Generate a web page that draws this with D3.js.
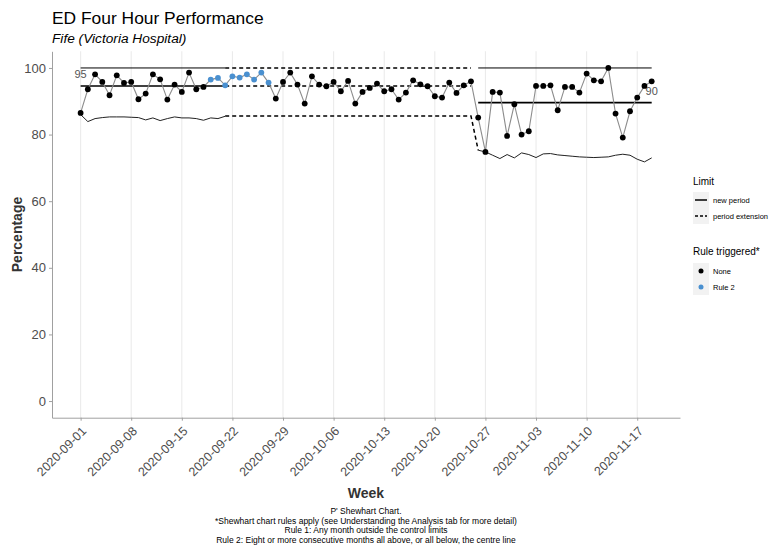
<!DOCTYPE html>
<html>
<head>
<meta charset="utf-8">
<script src="https://d3js.org/d3.v7.min.js"></script>
<style>
  body { margin: 0; background: #fff; }
  text { font-family: "Liberation Sans", Arial, sans-serif; }
</style>
</head>
<body>
<svg width="772" height="548"></svg>
<script>
// daily series, 2020-09-01 .. 2020-11-19
var startDay = "2020-09-01", endDay = "2020-11-20";
var values = [
  86.5, 93.6, 98.1, 95.8, 91.8, 97.8, 95.5, 95.8, 90.6, 92.3,
  98.1, 96.6, 90.5, 95.0, 92.8, 98.6, 93.6, 94.3, 96.5, 97.0,
  94.8, 97.5, 97.1, 98.1, 96.5, 98.6, 95.6, 90.8, 95.8, 98.6,
  95.0, 89.3, 97.5, 95.0, 94.5, 95.8, 93.0, 96.1, 89.3, 92.8,
  94.0, 95.3, 93.0, 93.6, 90.5, 92.6, 96.3, 95.1, 94.5, 91.5,
  91.1, 95.6, 92.5, 94.8, 96.0, 85.1, 74.8, 92.8, 92.6, 79.6,
  89.1, 80.0, 81.0, 94.6, 94.6, 94.8, 87.3, 94.3, 94.3, 92.6,
  98.3, 96.3, 96.0, 100.0, 86.3, 79.1, 87.0, 91.1, 94.6, 96.0
];
// rule triggered per day index
var rule2Days = [18, 19, 20, 21, 22, 23, 24, 25, 26];

// period 1: days 0..20
var p1Centre = 94.6, p1Upper = 100;
var p1Lower = [86.0, 83.9, 84.8, 85.1, 85.3, 85.3, 85.3, 85.2, 85.1, 84.4,
               85.0, 84.2, 84.8, 85.3, 85.0, 85.0, 84.8, 84.3, 85.0, 84.8, 85.5];
// period extension: days 20..54
var extRange = [20, 54], extCentre = 94.6, extUpper = 100, extLower = 85.6;
// period 2: days 55..79
var p2Centre = 89.6, p2Upper = 100;
var p2Lower = [75.3, 74.8, 73.8, 72.8, 74.0, 73.0, 74.5, 74.0, 73.1, 74.2,
               74.3, 73.9, 73.7, 73.5, 73.3, 73.2, 73.1, 73.2, 73.3, 73.8,
               74.1, 73.8, 72.6, 71.8, 73.0];

var yTicks = [0, 20, 40, 60, 80, 100];
var weekTicks = ["2020-09-01", "2020-09-08", "2020-09-15", "2020-09-22", "2020-09-29",
  "2020-10-06", "2020-10-13", "2020-10-20", "2020-10-27", "2020-11-03",
  "2020-11-10", "2020-11-17"];
var captionLines = [
  "P' Shewhart Chart.",
  "*Shewhart chart rules apply (see Understanding the Analysis tab for more detail)",
  "Rule 1: Any month outside the control limits",
  "Rule 2: Eight or more consecutive months all above, or all below, the centre line"
];

var parse = d3.utcParse("%Y-%m-%d");
var fmt = d3.utcFormat("%Y-%m-%d");
var days = d3.utcDay.range(parse(startDay), parse(endDay));
var data = days.map(function(d, i) {
  return { date: d, value: values[i], rule2: rule2Days.indexOf(i) >= 0 };
});

var svg = d3.select("svg");
var pLeft = 52, pRight = 680, pTop = 51.3, pBottom = 417.7;

var pad = 79 * 0.05;
var x = d3.scaleUtc()
  .domain([d3.utcHour.offset(days[0], -pad * 24), d3.utcHour.offset(days[days.length - 1], pad * 24)])
  .range([pLeft, pRight]);
var y = d3.scaleLinear().domain([-5, 105]).range([pBottom, pTop]);

// grid
svg.append("g").selectAll("line")
  .data(weekTicks.map(parse))
  .enter().append("line")
  .attr("x1", function(d) { return x(d); })
  .attr("x2", function(d) { return x(d); })
  .attr("y1", pTop).attr("y2", pBottom)
  .attr("stroke", "#ebebeb").attr("stroke-width", 1.1);

// axes
var xAxis = svg.append("g")
  .attr("transform", "translate(0," + pBottom + ")")
  .call(d3.axisBottom(x).tickValues(weekTicks.map(parse)).tickFormat(fmt).tickSize(3).tickSizeOuter(0));
xAxis.selectAll("text")
  .attr("x", 0).attr("y", 0).attr("dy", "0.35em")
  .attr("text-anchor", "end")
  .attr("transform", "translate(3,11) rotate(-45)")
  .style("font-size", "12.5px").attr("fill", "#4d4d4d");

var yAxis = svg.append("g")
  .attr("transform", "translate(" + pLeft + ",0)")
  .call(d3.axisLeft(y).tickValues(yTicks).tickSize(3).tickSizeOuter(0));
yAxis.selectAll("text").style("font-size", "13px").attr("fill", "#4d4d4d");

[xAxis, yAxis].forEach(function(a) {
  a.select(".domain").attr("stroke", "#a0a0a0");
  a.selectAll(".tick line").attr("stroke", "#a0a0a0");
});

// limit lines
var limLine = d3.line().x(function(d) { return x(days[d[0]]); }).y(function(d) { return y(d[1]); });
function drawLimit(pts, width, dash, colour) {
  svg.append("path")
    .attr("d", limLine(pts))
    .attr("fill", "none")
    .attr("stroke", colour || "#000")
    .attr("stroke-width", width)
    .attr("stroke-dasharray", dash || null);
}
// period 1
drawLimit([[0, p1Upper], [20, p1Upper]], 1);
drawLimit([[0, p1Centre], [20, p1Centre]], 1.6);
drawLimit(p1Lower.map(function(v, i) { return [i, v]; }), 1, null, "#222");
// extension
drawLimit([[extRange[0], extUpper], [extRange[1], extUpper]], 1.5, "4,3");
drawLimit([[extRange[0], extCentre], [extRange[1], extCentre]], 1.5, "4,3");
drawLimit([[extRange[0], extLower], [extRange[1], extLower], [55, p2Lower[0]]], 1.5, "4,3");
// period 2
drawLimit([[55, p2Upper], [79, p2Upper]], 1);
drawLimit([[55, p2Centre], [79, p2Centre]], 1.6);
drawLimit(p2Lower.map(function(v, i) { return [55 + i, v]; }), 1, null, "#222");

// centre labels
svg.append("text").attr("x", x(days[0])).attr("y", y(p1Centre) - 8)
  .attr("text-anchor", "middle").style("font-size", "11px").attr("fill", "#555").text(Math.round(p1Centre));
svg.append("text").attr("x", x(days[79])).attr("y", y(p2Centre) - 8)
  .attr("text-anchor", "middle").style("font-size", "11px").attr("fill", "#555").text(Math.round(p2Centre));

// data line and points
svg.append("path")
  .datum(data)
  .attr("d", d3.line().x(function(d) { return x(d.date); }).y(function(d) { return y(d.value); }))
  .attr("fill", "none").attr("stroke", "#8c8c8c").attr("stroke-width", 1.1);

svg.append("g").selectAll("circle")
  .data(data)
  .enter().append("circle")
  .attr("cx", function(d) { return x(d.date); })
  .attr("cy", function(d) { return y(d.value); })
  .attr("r", 2.9)
  .attr("fill", function(d) { return d.rule2 ? "#4a90d0" : "#000"; });

// titles
svg.append("text").attr("x", pLeft).attr("y", 24).style("font-size", "17.4px").attr("fill", "#000")
  .text("ED Four Hour Performance");
svg.append("text").attr("x", pLeft).attr("y", 43).style("font-size", "13.7px").style("font-style", "italic")
  .attr("fill", "#000").text("Fife (Victoria Hospital)");

svg.append("text").attr("transform", "translate(22," + ((pTop + pBottom) / 2) + ") rotate(-90)")
  .attr("text-anchor", "middle").style("font-size", "14px").style("font-weight", "bold")
  .attr("fill", "#333").text("Percentage");
svg.append("text").attr("x", (pLeft + pRight) / 2).attr("y", 498)
  .attr("text-anchor", "middle").style("font-size", "14px").style("font-weight", "bold")
  .attr("fill", "#333").text("Week");

svg.append("g").selectAll("text")
  .data(captionLines)
  .enter().append("text")
  .attr("x", (pLeft + pRight) / 2)
  .attr("y", function(d, i) { return 514 + i * 9.6; })
  .attr("text-anchor", "middle")
  .style("font-size", "8.5px").attr("fill", "#000")
  .text(function(d) { return d; });

// legends
var lg = svg.append("g").attr("transform", "translate(693,0)");
lg.append("text").attr("x", 0).attr("y", 185).style("font-size", "10px").attr("fill", "#000").text("Limit");
[["new period", null], ["period extension", "3,2"]].forEach(function(k, i) {
  var ky = 192 + i * 16;
  lg.append("rect").attr("x", 0).attr("y", ky).attr("width", 16).attr("height", 16).attr("fill", "#f2f2f2");
  lg.append("line").attr("x1", 2).attr("x2", 14).attr("y1", ky + 8).attr("y2", ky + 8)
    .attr("stroke", "#000").attr("stroke-width", 1.5).attr("stroke-dasharray", k[1]);
  lg.append("text").attr("x", 20).attr("y", ky + 10.5).style("font-size", "7.5px").attr("fill", "#000").text(k[0]);
});
lg.append("text").attr("x", 0).attr("y", 255).style("font-size", "10px").attr("fill", "#000").text("Rule triggered*");
[["None", "#000"], ["Rule 2", "#4a90d0"]].forEach(function(k, i) {
  var ky = 263 + i * 16;
  lg.append("rect").attr("x", 0).attr("y", ky).attr("width", 16).attr("height", 16).attr("fill", "#f2f2f2");
  lg.append("circle").attr("cx", 8).attr("cy", ky + 8).attr("r", 2.5).attr("fill", k[1]);
  lg.append("text").attr("x", 20).attr("y", ky + 10.5).style("font-size", "7.5px").attr("fill", "#000").text(k[0]);
});
</script>
</body>
</html>
